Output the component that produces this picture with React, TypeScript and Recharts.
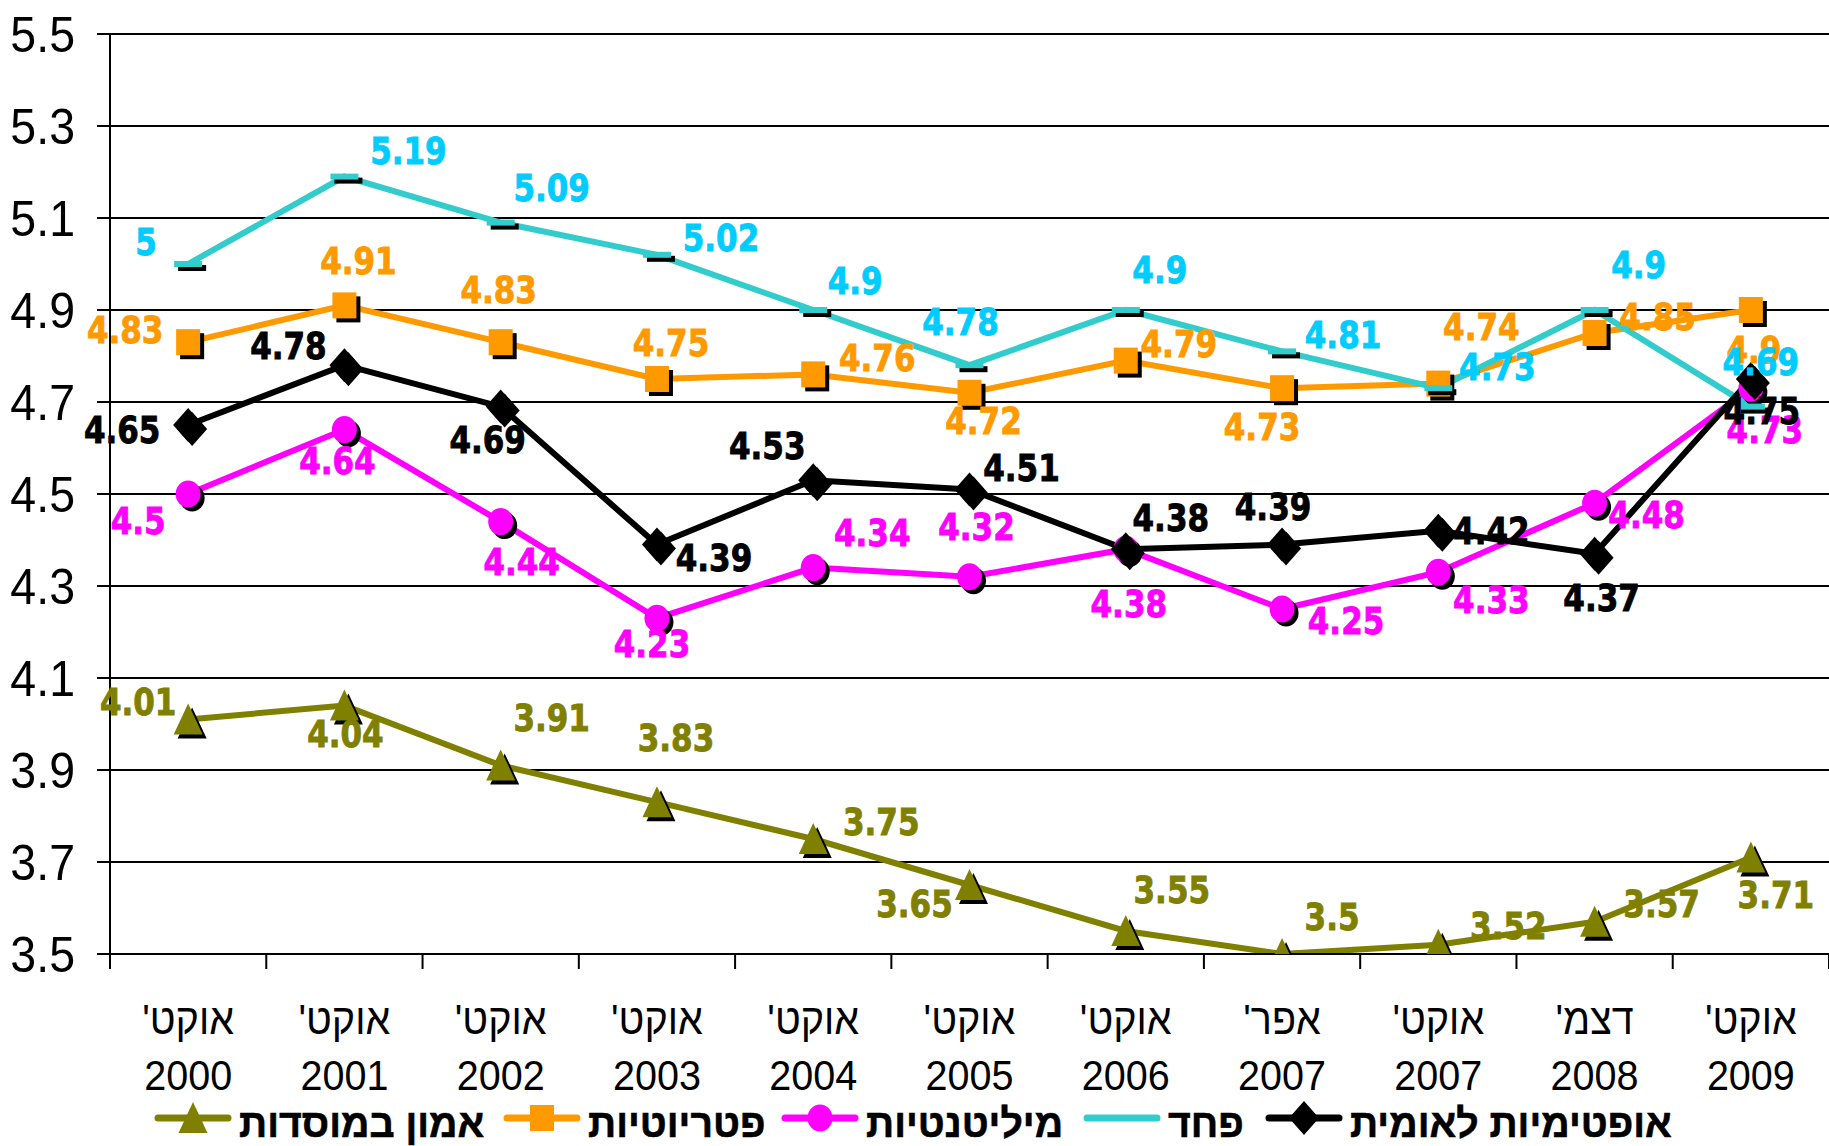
import React from 'react';
import { LineChart, Line, XAxis, YAxis, CartesianGrid, LabelList, Legend } from 'recharts';

// ---------- data ----------
const months = ["אוקט'", "אוקט'", "אוקט'", "אוקט'", "אוקט'", "אוקט'", "אוקט'", "אפר'", "אוקט'", "דצמ'", "אוקט'"];
const years = ['2000', '2001', '2002', '2003', '2004', '2005', '2006', '2007', '2007', '2008', '2009'];

const trustInInstitutions = [4.01, 4.04, 3.91, 3.83, 3.75, 3.65, 3.55, 3.5, 3.52, 3.57, 3.71];
const patriotism = [4.83, 4.91, 4.83, 4.75, 4.76, 4.72, 4.79, 4.73, 4.74, 4.85, 4.9];
const militancy = [4.5, 4.64, 4.44, 4.23, 4.34, 4.32, 4.38, 4.25, 4.33, 4.48, 4.73];
const fear = [5, 5.19, 5.09, 5.02, 4.9, 4.78, 4.9, 4.81, 4.73, 4.9, 4.69];
const nationalOptimism = [4.65, 4.78, 4.69, 4.39, 4.53, 4.51, 4.38, 4.39, 4.42, 4.37, 4.75];

const yTicks = [3.5, 3.7, 3.9, 4.1, 4.3, 4.5, 4.7, 4.9, 5.1, 5.3, 5.5];

const seriesNames = {
  trust: 'אמון במוסדות',
  patriot: 'פטריוטיות',
  milit: 'מיליטנטיות',
  fear: 'פחד',
  optim: 'אופטימיות לאומית',
};

const data = months.map((m, i) => ({
  cat: `${m} ${years[i]}`,
  trust: trustInInstitutions[i],
  patriot: patriotism[i],
  milit: militancy[i],
  fear: fear[i],
  optim: nationalOptimism[i],
}));

// ---------- style / layout ----------
const W = 1829;
const H = 1146;
const PLOT_LEFT = 110;
const PLOT_TOP = 34;
const XAXIS_H = 192;
const BAND = (W - PLOT_LEFT) / months.length;

const OLIVE = '#808000';
const ORANGE = '#FF9900';
const MAGENTA = '#FF00FF';
const CYAN_LINE = '#33CCCC';
const CYAN_TEXT = '#00CCFF';
const BLACK = '#000000';

// label offsets (dx, dy) from the point to the label centre
const offTrust = [[-50, -18], [1, 28], [51, -48], [19, -65], [68, -18], [-55, 18], [46, -42], [50, -38], [70, -19], [67, -18], [25, 37]];
const offPatriot = [[-63, -13], [14, -45], [-2, -53], [14, -37], [64, -17], [14, 28], [53, -17], [-20, 38], [43, -57], [63, -17], [3, 39]];
const offMilit = [[-50, 26], [-7, 31], [21, 40], [-5, 25], [59, -35], [7, -50], [3, 54], [64, 11], [53, 27], [52, 11], [14, 41]];
const offFear = [[-42, -23], [64, -26], [51, -35], [64, -17], [42, -30], [-9, -44], [34, -41], [61, -17], [59, -22], [44, -46], [10, -45]];
const offOptim = [[-66, 4], [-56, -20], [-13, 33], [57, 13], [-46, -35], [52, -22], [45, -32], [-9, -38], [53, 0], [7, 44], [11, 31]];

const SH = 4; // shadow offset

type Shape = 'triangle' | 'square' | 'circle' | 'dash' | 'diamond';

function shapeEl(shape: Shape, cx: number, cy: number, fill: string, key?: string) {
  switch (shape) {
    case 'triangle':
      return <polygon key={key} points={`${cx},${cy - 16} ${cx + 14.5},${cy + 15} ${cx - 14.5},${cy + 15}`} fill={fill} />;
    case 'square':
      return <rect key={key} x={cx - 12} y={cy - 13} width={24} height={26} fill={fill} />;
    case 'circle':
      return <ellipse key={key} cx={cx} cy={cy} rx={12.5} ry={13.5} fill={fill} />;
    case 'dash':
      return <rect key={key} x={cx - 14} y={cy - 3} width={28} height={6} fill={fill} />;
    case 'diamond':
    default:
      return <polygon key={key} points={`${cx},${cy - 17} ${cx + 15},${cy} ${cx},${cy + 17} ${cx - 15},${cy}`} fill={fill} />;
  }
}

const makeDot = (shape: Shape, color: string) => (props: any) => {
  const { cx, cy, index } = props;
  if (cx == null || cy == null) return <g key={`d-${index}`} />;
  return (
    <g key={`d-${shape}-${index}`}>
      {shapeEl(shape, cx + SH, cy + SH, BLACK)}
      {shapeEl(shape, cx, cy, color)}
    </g>
  );
};

const makeLabel = (color: string, offs: number[][]) => (p: any) => {
  const vb = p.viewBox || {};
  const x = Number(vb.x ?? p.x);
  const y = Number(vb.y ?? p.y);
  const i = Number(p.index);
  const o = offs[i] || [0, -30];
  return (
    <text
      key={`l-${color}-${i}`}
      transform={`translate(${x + o[0]},${y + o[1] + 13.5}) scale(0.85,1)`}
      textAnchor="middle"
      fill={color}
      stroke={color}
      strokeWidth={0.9}
      fontFamily="'DejaVu Sans', Verdana, sans-serif"
      fontWeight="bold"
      fontSize={36.5}
    >
      {String(p.value)}
    </text>
  );
};

const YTick = (props: any) => {
  const { x, y, payload } = props;
  return (
    <text
      transform={`translate(${x},${y + 18}) scale(0.93,1)`}
      textAnchor="end"
      fill="#000"
      fontFamily="'Liberation Sans', Arial, sans-serif"
      fontSize={50}
    >
      {String(payload.value)}
    </text>
  );
};

const XTick = (props: any) => {
  const { x, y, index } = props;
  const i = Number(index);
  const isLast = i === months.length - 1;
  return (
    <g>
      <line x1={x - BAND / 2} x2={x - BAND / 2} y1={y} y2={y + 15} stroke="#000" strokeWidth={2} />
      {isLast && <line x1={x + BAND / 2} x2={x + BAND / 2} y1={y} y2={y + 15} stroke="#000" strokeWidth={2} />}
      <text
        transform={`translate(${x},${y + 80}) scale(0.92,1)`}
        textAnchor="middle"
        direction="rtl"
        fill="#000"
        fontFamily="'Liberation Sans', Arial, sans-serif"
        fontSize={43}
      >
        {months[i]}
      </text>
      <text
        transform={`translate(${x},${y + 136}) scale(0.92,1)`}
        textAnchor="middle"
        fill="#000"
        fontFamily="'Liberation Sans', Arial, sans-serif"
        fontSize={43}
      >
        {years[i]}
      </text>
    </g>
  );
};

const legendItems: { name: string; color: string; shape: Shape | null; left: number }[] = [
  { name: seriesNames.trust, color: OLIVE, shape: 'triangle', left: 155 },
  { name: seriesNames.patriot, color: ORANGE, shape: 'square', left: 504 },
  { name: seriesNames.milit, color: MAGENTA, shape: 'circle', left: 782 },
  { name: seriesNames.fear, color: CYAN_LINE, shape: null, left: 1084 },
  { name: seriesNames.optim, color: BLACK, shape: 'diamond', left: 1266 },
];

const LegendContent = () => (
  <svg width={W} height={58} style={{ display: 'block' }}>
    {legendItems.map((it) => {
      const cy = 30;
      const cx = it.left + 38;
      return (
        <g key={it.name}>
          <line x1={it.left + 3} x2={it.left + 73} y1={cy} y2={cy} stroke={it.color} strokeWidth={7} strokeLinecap="round" />
          {it.shape && shapeEl(it.shape, cx, cy, it.color)}
          <text
            transform={`translate(${it.left + 84},49) scale(0.98,1)`}
            textAnchor="start"
            fill="#000"
            stroke="#000"
            strokeWidth={0.6}
            fontFamily="'Liberation Sans', Arial, sans-serif"
            fontWeight="bold"
            fontSize={40}
          >
            {it.name}
          </text>
        </g>
      );
    })}
  </svg>
);

export default function App() {
  return (
    <div style={{ position: 'absolute', left: 0, top: 0, width: W, height: H, background: '#fff' }}>
      <LineChart width={W} height={H} data={data} margin={{ top: PLOT_TOP, right: 0, bottom: 0, left: 0 }}>
        <CartesianGrid vertical={false} horizontal stroke="#000" strokeWidth={2} />
        <XAxis
          dataKey="cat"
          type="category"
          height={XAXIS_H}
          padding={{ left: BAND / 2, right: BAND / 2 }}
          axisLine={{ stroke: '#000', strokeWidth: 2 }}
          tickLine={false}
          tickSize={0}
          tickMargin={0}
          interval={0}
          tick={<XTick />}
        />
        <YAxis
          type="number"
          domain={[3.5, 5.5]}
          ticks={yTicks}
          width={PLOT_LEFT}
          axisLine={{ stroke: '#000', strokeWidth: 2 }}
          tickLine={{ stroke: '#000', strokeWidth: 2 }}
          tickSize={13}
          tickMargin={22}
          interval={0}
          allowDataOverflow
          tick={<YTick />}
        />
        <Legend
          verticalAlign="middle"
          align="center"
          layout="horizontal"
          wrapperStyle={{ left: 0, top: 1088, width: W, height: 58 }}
          content={<LegendContent />}
        />

        <Line dataKey="trust" name={seriesNames.trust} stroke={OLIVE} strokeWidth={6} isAnimationActive={false} dot={makeDot('triangle', OLIVE)} activeDot={false} />
        <Line dataKey="patriot" name={seriesNames.patriot} stroke={ORANGE} strokeWidth={6} isAnimationActive={false} dot={makeDot('square', ORANGE)} activeDot={false} />
        <Line dataKey="milit" name={seriesNames.milit} stroke={MAGENTA} strokeWidth={6} isAnimationActive={false} dot={makeDot('circle', MAGENTA)} activeDot={false} />
        <Line dataKey="fear" name={seriesNames.fear} stroke={CYAN_LINE} strokeWidth={6} isAnimationActive={false} dot={makeDot('dash', CYAN_LINE)} activeDot={false} />
        <Line dataKey="optim" name={seriesNames.optim} stroke={BLACK} strokeWidth={6} isAnimationActive={false} dot={makeDot('diamond', BLACK)} activeDot={false} />

        {/* label layers drawn above all series */}
        <Line dataKey="trust" legendType="none" stroke="none" dot={false} activeDot={false} isAnimationActive={false}>
          <LabelList dataKey="trust" content={makeLabel(OLIVE, offTrust)} />
        </Line>
        <Line dataKey="patriot" legendType="none" stroke="none" dot={false} activeDot={false} isAnimationActive={false}>
          <LabelList dataKey="patriot" content={makeLabel(ORANGE, offPatriot)} />
        </Line>
        <Line dataKey="milit" legendType="none" stroke="none" dot={false} activeDot={false} isAnimationActive={false}>
          <LabelList dataKey="milit" content={makeLabel(MAGENTA, offMilit)} />
        </Line>
        <Line dataKey="fear" legendType="none" stroke="none" dot={false} activeDot={false} isAnimationActive={false}>
          <LabelList dataKey="fear" content={makeLabel(CYAN_TEXT, offFear)} />
        </Line>
        <Line dataKey="optim" legendType="none" stroke="none" dot={false} activeDot={false} isAnimationActive={false}>
          <LabelList dataKey="optim" content={makeLabel(BLACK, offOptim)} />
        </Line>
      </LineChart>
    </div>
  );
}
